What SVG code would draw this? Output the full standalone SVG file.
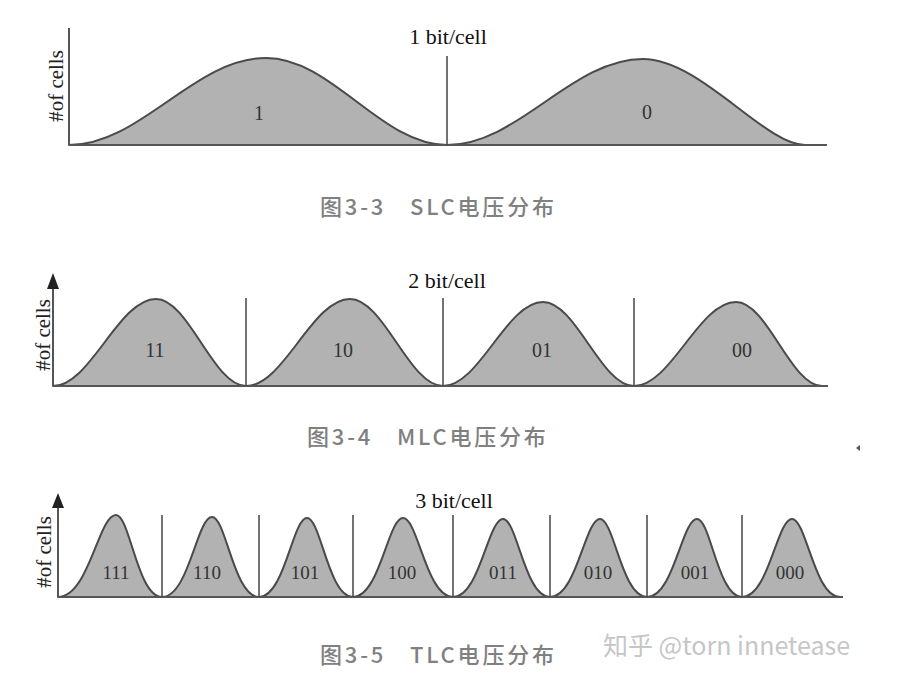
<svg xmlns="http://www.w3.org/2000/svg" width="905" height="689" viewBox="0 0 905 689">
<style>
.bg{fill:#ffffff}
.dist{fill:#b2b2b2;stroke:#4a4a4a;stroke-width:2;stroke-linejoin:round}
.axis{stroke:#555;stroke-width:2;fill:none}
.div{stroke:#444;stroke-width:1.5;fill:none}
.lbl{font-family:"Liberation Serif","Times New Roman",serif;font-size:20px;fill:#333;text-anchor:middle}
.lbl3{font-family:"Liberation Serif","Times New Roman",serif;font-size:19px;fill:#333;text-anchor:middle}
.title{font-family:"Liberation Serif","Times New Roman",serif;font-size:22px;fill:#111;text-anchor:middle}
.ylab{font-family:"Liberation Serif","Times New Roman",serif;font-size:21px;fill:#222;text-anchor:middle}
.cap{font-family:"Noto Sans CJK SC","Noto Sans",sans-serif;font-size:22px;font-weight:500;fill:#808080;letter-spacing:2.8px}
.wm{font-family:"Noto Sans CJK SC","Noto Sans",sans-serif;font-size:25px;fill:#c6c6c6}
.arr{fill:#222}
</style>
<rect class="bg" x="0" y="0" width="905" height="689"/>

<g id="slc">
  <path class="dist" d="M69,145 C140.7,145 194.3,58 266,58 C331.9,58 381.1,145 447,145 Z"/>
  <path class="dist" d="M447,145 C518.3,145 571.7,59 643,59 C700,59 765,145 805,145 Z"/>
  <line class="axis" x1="69" y1="145" x2="827" y2="145"/>
  <line class="axis" x1="69" y1="28" x2="69" y2="145"/>
  <line class="div" x1="447" y1="56" x2="447" y2="145"/>
  <text class="title" x="448" y="44">1 bit/cell</text>
  <text class="ylab" transform="translate(63,86) rotate(-90)">#of cells</text>
  <text class="lbl" x="259" y="120">1</text>
  <text class="lbl" x="647" y="119">0</text>
  <text class="cap" x="320" y="215">图3-3<tspan x="410">SLC电压分布</tspan></text>
</g>

<g id="mlc">
  <path class="dist" d="M53,386 C90.5,386 118.5,299 156,299 C188.8,299 213.2,386 246,386 Z"/>
  <path class="dist" d="M246,386 C283.9,386 312.1,299 350,299 C383.9,299 409.1,386 443,386 Z"/>
  <path class="dist" d="M443,386 C479.4,386 506.6,302 543,302 C576.1,302 600.9,386 634,386 Z"/>
  <path class="dist" d="M634,386 C671.1,386 698.9,302 736,302 C767.3,302 790.7,386 822,386 Z"/>
  <line class="axis" x1="53" y1="386" x2="828" y2="386"/>
  <line class="axis" x1="53" y1="286" x2="53" y2="386"/>
  <polygon class="arr" points="53,273 47,289 59,289"/>
  <line class="div" x1="246" y1="298" x2="246" y2="386"/>
  <line class="div" x1="443" y1="298" x2="443" y2="386"/>
  <line class="div" x1="634" y1="298" x2="634" y2="386"/>
  <text class="title" x="447" y="288">2 bit/cell</text>
  <text class="ylab" transform="translate(50,335) rotate(-90)">#of cells</text>
  <text class="lbl" x="155" y="357">11</text>
  <text class="lbl" x="343" y="357">10</text>
  <text class="lbl" x="542" y="357">01</text>
  <text class="lbl" x="742" y="357">00</text>
  <text class="cap" x="307" y="445">图3-4<tspan x="397">MLC电压分布</tspan></text>
</g>

<g id="tlc">
  <path class="dist" d="M58,597 C88.9,597 98.5,515 116,515 C129.8,515 137.5,597 162,597 Z"/>
  <path class="dist" d="M162,597 C188.7,597 197,517 212,517 C226,517 233.9,597 259,597 Z"/>
  <path class="dist" d="M259,597 C284.6,597 292.6,518 307,518 C320.8,518 328.5,597 353,597 Z"/>
  <path class="dist" d="M353,597 C379.7,597 388,518 403,518 C418,518 426.3,597 453,597 Z"/>
  <path class="dist" d="M453,597 C479.7,597 488,519 503,519 C517,519 524.9,597 550,597 Z"/>
  <path class="dist" d="M550,597 C576.7,597 585,519 600,519 C614,519 621.9,597 647,597 Z"/>
  <path class="dist" d="M647,597 C673.7,597 682,519 697,519 C710.5,519 718,597 742,597 Z"/>
  <path class="dist" d="M742,597 C768.7,597 777,519 792,519 C806.4,519 814.4,597 840,597 Z"/>
  <line class="axis" x1="58" y1="597" x2="843" y2="597"/>
  <line class="axis" x1="58" y1="506" x2="58" y2="597"/>
  <polygon class="arr" points="58,493 52,508 64,508"/>
  <g class="divs">
    <line class="div" x1="162" y1="515" x2="162" y2="597"/>
    <line class="div" x1="259" y1="515" x2="259" y2="597"/>
    <line class="div" x1="353" y1="515" x2="353" y2="597"/>
    <line class="div" x1="453" y1="515" x2="453" y2="597"/>
    <line class="div" x1="550" y1="515" x2="550" y2="597"/>
    <line class="div" x1="647" y1="515" x2="647" y2="597"/>
    <line class="div" x1="742" y1="515" x2="742" y2="597"/>
  </g>
  <text class="title" x="454" y="508">3 bit/cell</text>
  <text class="ylab" transform="translate(51,552) rotate(-90)">#of cells</text>
  <text class="lbl3" x="116" y="579">111</text>
  <text class="lbl3" x="207" y="579">110</text>
  <text class="lbl3" x="305" y="579">101</text>
  <text class="lbl3" x="402" y="579">100</text>
  <text class="lbl3" x="503" y="579">011</text>
  <text class="lbl3" x="598" y="579">010</text>
  <text class="lbl3" x="695" y="579">001</text>
  <text class="lbl3" x="790" y="579">000</text>
  <text class="cap" x="320" y="663">图3-5<tspan x="410">TLC电压分布</tspan></text>
</g>

<text class="wm" x="603" y="655">知乎 @torn innetease</text>
<polygon points="856,448 860,445 860,451" fill="#555"/>
</svg>
